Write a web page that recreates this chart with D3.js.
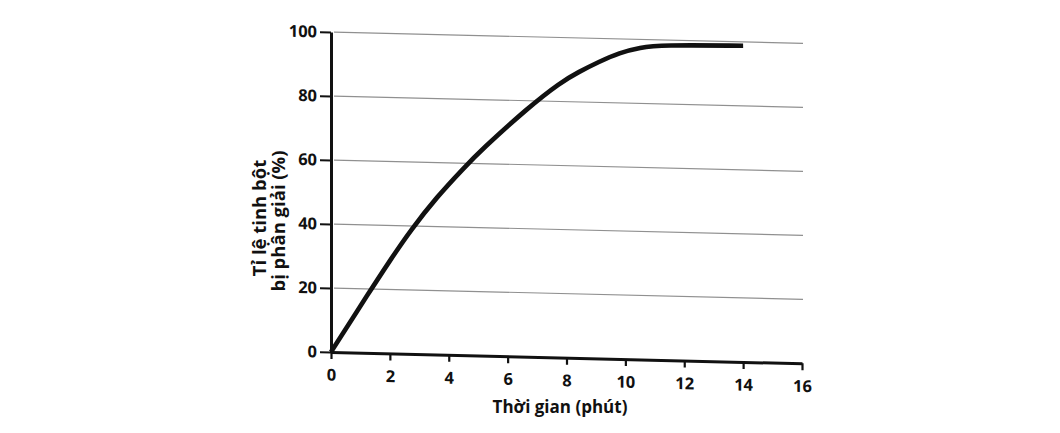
<!DOCTYPE html>
<html><head><meta charset="utf-8">
<script src="https://cdn.jsdelivr.net/npm/d3@7"></script>
<style>
body{margin:0;background:#fff}
text{font-family:"Open Sans",sans-serif;font-weight:700;fill:#111}
</style>
</head><body>
<svg id="c" width="1060" height="433"></svg>
<script>
// Time (minutes) and percent of starch hydrolysed
const times  = [0, 1.3, 2.0, 2.7, 3.6, 4.5, 5.1, 6.7, 7.8, 8.4, 9.1, 9.8, 10.5, 11.2, 14];
const values = [0, 19.0, 29.0, 38.6, 49.3, 58.4, 64.2, 77.9, 86.0, 89.3, 92.7, 95.7, 97.5, 98.4, 98.8];
const xTicks = [0, 2, 4, 6, 8, 10, 12, 14, 16];
const yTicks = [0, 20, 40, 60, 80, 100];
const xTitle = "Thời gian (phút)";
const yTitle = ["Tỉ lệ tinh bột", "bị phân giải (%)"];

const svg = d3.select("#c");
const x = d3.scaleLinear().domain([0, 16]).range([331, 802]);
const y = d3.scaleLinear().domain([0, 100]).range([352, 32]);
const shear = Math.atan(0.024) * 180 / Math.PI;

const g = svg.append("g")
  .attr("transform", `translate(331,352) skewY(${shear}) translate(-331,-352)`);

// gridlines
g.selectAll("line.grid").data(yTicks.filter(d => d > 0)).join("line")
  .attr("class", "grid")
  .attr("x1", x(0) + 3).attr("x2", x(16) + 1)
  .attr("y1", d => y(d)).attr("y2", d => y(d))
  .attr("stroke", "#909090").attr("stroke-width", 1.2);

// y axis
const ya = g.append("g").attr("transform", `translate(${x(0)},0)`)
  .call(d3.axisLeft(y).tickValues(yTicks).tickSize(11).tickSizeOuter(0).tickPadding(3));
// x axis
const xa = g.append("g").attr("transform", `translate(0,${y(0)})`)
  .call(d3.axisBottom(x).tickValues(xTicks).tickSize(7).tickSizeOuter(0).tickPadding(10));

[ya, xa].forEach(a => {
  a.select(".domain").attr("stroke", "#111").attr("stroke-width", 3);
  a.selectAll(".tick line").attr("stroke", "#111").attr("stroke-width", 2.2);
  a.selectAll(".tick text").attr("font-size", 16.5)
    .style("font-family", '"Open Sans",sans-serif').style("font-weight", 700).attr("fill", "#111");
});

// curve
const line = d3.line().x((d, i) => x(times[i])).y(d => y(d)).curve(d3.curveBasis);
g.append("path").datum(values).attr("d", line)
  .attr("fill", "none").attr("stroke", "#111").attr("stroke-width", 4.6)
  .attr("stroke-linejoin", "round").attr("stroke-linecap", "butt");

// titles
svg.append("text").attr("x", 560).attr("y", 413).attr("text-anchor", "middle")
  .attr("font-size", 17).text(xTitle);
svg.selectAll("text.yt").data(yTitle).join("text").attr("class", "yt")
  .attr("text-anchor", "middle").attr("font-size", 18.5)
  .attr("transform", (d, i) => `translate(${i === 0 ? 266 : 285},${i === 0 ? 218 : 221}) rotate(-90)`)
  .text(d => d);
</script>
</body></html>
